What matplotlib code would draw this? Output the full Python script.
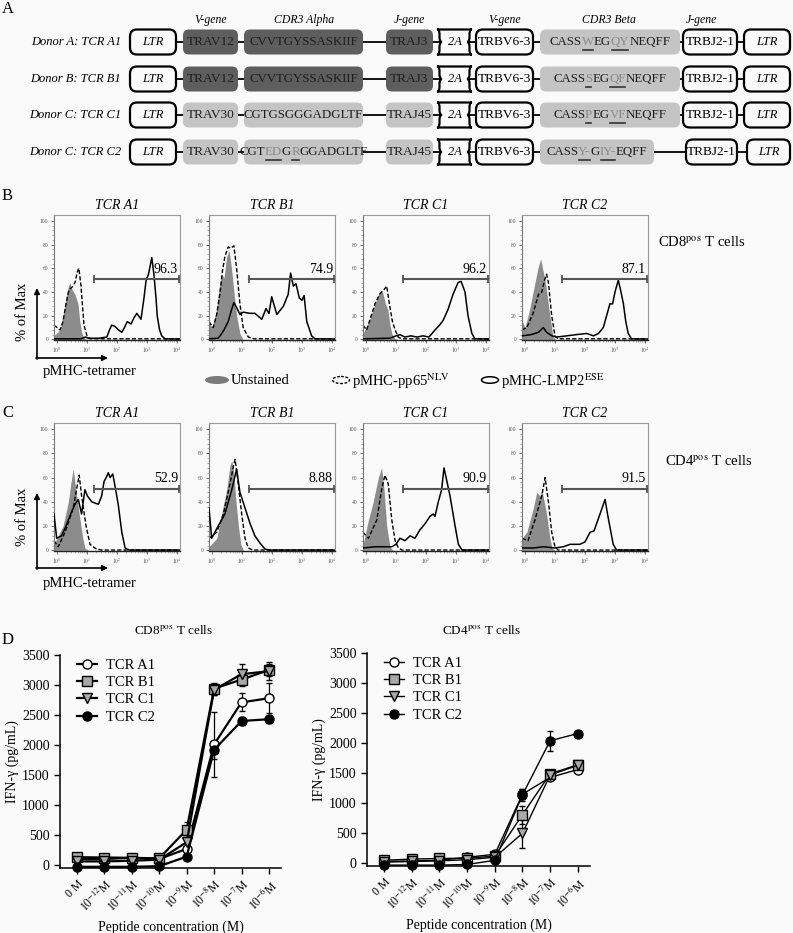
import matplotlib
matplotlib.use("Agg")
import matplotlib.pyplot as plt
import numpy as np
from matplotlib.patches import FancyBboxPatch, PathPatch, Ellipse
from matplotlib.path import Path

plt.rcParams['font.family'] = ['Liberation Serif', 'DejaVu Serif']
plt.rcParams['mathtext.fontset'] = 'stix'

W, H = 793, 933
BG = '#fafafa'
DARK = '#5e5e5e'
LIGHT = '#c4c4c4'
HL = '#8a8a8a'
UNS = '#8c8c8c'

# ---------------- panel A: TCR constructs ----------------
row_labels = ["Donor A: TCR A1", "Donor B: TCR B1", "Donor C: TCR C1", "Donor C: TCR C2"]
trav = ["TRAV12", "TRAV12", "TRAV30", "TRAV30"]
traj = ["TRAJ3", "TRAJ3", "TRAJ45", "TRAJ45"]
alpha_dark = [True, True, False, False]
cdr3_alpha = ["CVVTGYSSASKIIF", "CVVTGYSSASKIIF", "CGTGSGGGADGLTF", "CGT[ED]G[R]GGADGLTF"]
cdr3_beta = ["CASS[W]EG[QY]NEQFF", "CASS[S]EG[QF]NEQFF", "CASS[P]EG[VF]NEQFF", "CASS[Y-]G[IY-]EQFF"]
trbv = "TRBV6-3"
trbj = "TRBJ2-1"
headers = ["V-gene", "CDR3 Alpha", "J-gene", "V-gene", "CDR3 Beta", "J-gene"]

# ---------------- panel B/C: tetramer histograms (x = log10 fluorescence, y = % of max) ----------------
tcr_names = ["TCR A1", "TCR B1", "TCR C1", "TCR C2"]
b_gates = ["96.3", "74.9", "96.2", "87.1"]
c_gates = ["52.9", "8.88", "90.9", "91.5"]

b_a1_uns = [(-0.1, 3), (0.1, 8), (0.2, 20), (0.3, 35), (0.38, 45), (0.43, 48), (0.5, 42), (0.6, 38), (0.7, 30),
            (0.76, 15), (0.82, 6), (0.88, 2), (0.95, 0.5), (1.05, 0)]
b_a1_nlv = [(-0.1, 12), (0.1, 8), (0.2, 15), (0.3, 30), (0.4, 42), (0.5, 44), (0.6, 48), (0.68, 57), (0.73, 60),
            (0.8, 45), (0.85, 28), (0.9, 12), (1.0, 3), (1.1, 0.5), (4.1, 0.5)]
b_a1_ese = [(-0.1, 0.5), (0.8, 0.5), (0.95, 2), (1.05, 1), (1.4, 1), (1.66, 2), (1.75, 8), (1.82, 12), (1.93, 11),
            (2.05, 8), (2.16, 6), (2.25, 10), (2.34, 15), (2.47, 13), (2.56, 18), (2.66, 22), (2.8, 17), (2.9, 35),
            (2.97, 50), (3.05, 55), (3.16, 69), (3.23, 55), (3.3, 35), (3.34, 20), (3.42, 8), (3.49, 3), (3.6, 0.5),
            (4.1, 0.3)]

b_b1_uns = [(-0.1, 15), (0.0, 10), (0.15, 25), (0.25, 45), (0.32, 55), (0.4, 52), (0.49, 70), (0.57, 75), (0.65, 60),
            (0.73, 40), (0.82, 20), (0.93, 5), (1.03, 0)]
b_b1_nlv = [(-0.1, 15), (0.04, 10), (0.15, 20), (0.27, 40), (0.35, 58), (0.43, 70), (0.54, 78), (0.63, 77), (0.73, 79),
            (0.82, 60), (0.93, 30), (1.04, 10), (1.21, 2), (1.4, 0.5), (4.1, 0.5)]
b_b1_ese = [(-0.1, 0.5), (0.2, 1), (0.27, 3), (0.4, 8), (0.54, 15), (0.65, 25), (0.73, 31), (0.82, 27), (0.93, 21),
            (1.04, 23), (1.27, 22), (1.43, 22), (1.66, 17), (1.8, 26), (1.9, 22), (1.99, 36), (2.16, 21), (2.38, 28),
            (2.49, 35), (2.54, 38), (2.62, 56), (2.71, 45), (2.8, 47), (2.91, 35), (3.0, 33), (3.07, 37), (3.16, 15),
            (3.32, 3), (3.43, 0.5), (4.1, 0.3)]

b_c1_uns = [(-0.1, 5), (0.1, 15), (0.3, 30), (0.45, 40), (0.55, 40), (0.65, 30), (0.73, 25), (0.8, 12), (0.86, 5),
            (0.95, 1), (1.05, 0)]
b_c1_nlv = [(-0.1, 12), (0.02, 8), (0.15, 18), (0.3, 30), (0.45, 38), (0.6, 42), (0.69, 45), (0.78, 30), (0.88, 15),
            (0.97, 8), (1.07, 2), (1.2, 0.5), (4.1, 0.5)]
b_c1_ese = [(-0.1, 0.5), (0.8, 1), (1.0, 3), (1.13, 4), (1.3, 2), (1.5, 3), (1.7, 2), (1.9, 3), (2.1, 2), (2.3, 8),
            (2.45, 12), (2.57, 16), (2.73, 25), (2.9, 38), (3.07, 48), (3.17, 49), (3.3, 40), (3.4, 20), (3.53, 5),
            (3.63, 0.5), (4.1, 0.3)]

b_c2_uns = [(-0.1, 16), (0.0, 10), (0.15, 25), (0.27, 40), (0.43, 60), (0.52, 68), (0.6, 58), (0.67, 50), (0.75, 35),
            (0.83, 20), (0.93, 3), (1.0, 0)]
b_c2_nlv = [(-0.1, 8), (0.06, 10), (0.2, 18), (0.27, 22), (0.45, 38), (0.56, 40), (0.65, 50), (0.72, 55), (0.78, 48),
            (0.89, 20), (1.0, 3), (1.1, 0.5), (4.1, 0.5)]
b_c2_ese = [(-0.1, 3), (0.2, 4), (0.45, 6), (0.61, 10), (0.72, 6), (0.9, 3), (1.06, 2), (1.39, 3), (1.7, 4), (2.06, 5),
            (2.28, 3), (2.45, 5), (2.61, 10), (2.72, 20), (2.83, 30), (2.92, 30), (3.0, 40), (3.11, 50), (3.2, 40),
            (3.28, 30), (3.36, 15), (3.44, 5), (3.55, 0.5), (4.1, 0.3)]

c_a1_uns = [(-0.1, 5), (0.04, 12), (0.2, 20), (0.38, 40), (0.46, 55), (0.54, 67), (0.63, 50), (0.74, 30), (0.86, 10),
            (0.93, 2), (1.05, 0)]
c_a1_nlv = [(-0.1, 8), (0.04, 3), (0.27, 15), (0.54, 35), (0.65, 50), (0.74, 62), (0.82, 45), (0.97, 20), (1.1, 5),
            (1.32, 1), (1.5, 0.3), (4.1, 0.3)]
c_a1_ese = [(-0.1, 30), (-0.01, 10), (0.15, 12), (0.3, 20), (0.49, 32), (0.6, 38), (0.71, 42), (0.82, 30), (0.93, 50),
            (1.01, 45), (1.16, 40), (1.38, 38), (1.49, 45), (1.57, 57), (1.64, 60), (1.71, 64), (1.77, 60), (1.86, 63),
            (1.97, 48), (2.04, 38), (2.16, 15), (2.27, 2), (2.4, 0.3), (4.1, 0.3)]

c_b1_uns = [(-0.1, 3), (0.16, 10), (0.32, 30), (0.49, 50), (0.6, 70), (0.66, 74), (0.72, 65), (0.8, 40), (0.88, 20),
            (0.96, 5), (1.05, 0)]
c_b1_nlv = [(-0.1, 10), (0.16, 15), (0.38, 30), (0.6, 55), (0.72, 70), (0.77, 75), (0.85, 60), (0.99, 30), (1.1, 10),
            (1.21, 2), (1.35, 0.3), (4.1, 0.3)]
c_b1_ese = [(-0.1, 35), (-0.01, 10), (0.16, 18), (0.43, 30), (0.66, 50), (0.82, 67), (0.93, 48), (1.1, 35), (1.27, 22),
            (1.43, 12), (1.6, 6), (1.77, 1), (1.95, 0.3), (4.1, 0.3)]

c_c1_uns = [(-0.1, 5), (0.08, 25), (0.24, 40), (0.41, 60), (0.52, 68), (0.6, 50), (0.69, 20), (0.8, 3), (0.9, 0)]
c_c1_nlv = [(-0.1, 15), (0.08, 10), (0.36, 25), (0.52, 50), (0.63, 62), (0.74, 55), (0.86, 25), (0.97, 8), (1.08, 2),
            (1.2, 0.3), (4.1, 0.3)]
c_c1_ese = [(-0.1, 2), (0.3, 3), (0.86, 3), (1.0, 5), (1.13, 10), (1.3, 8), (1.47, 12), (1.63, 10), (1.8, 17),
            (1.97, 22), (2.13, 28), (2.24, 30), (2.3, 28), (2.41, 40), (2.52, 50), (2.6, 68), (2.67, 60), (2.8, 45),
            (2.97, 20), (3.08, 5), (3.2, 0.3), (4.1, 0.3)]

c_c2_uns = [(-0.1, 10), (0.06, 15), (0.28, 35), (0.39, 48), (0.5, 45), (0.56, 50), (0.72, 30), (0.83, 10), (0.9, 2),
            (1.0, 0)]
c_c2_nlv = [(-0.1, 10), (0.1, 8), (0.33, 25), (0.56, 45), (0.67, 60), (0.78, 40), (0.89, 15), (1.0, 3), (1.1, 0.3),
            (4.1, 0.3)]
c_c2_ese = [(-0.1, 2), (0.3, 2), (0.6, 3), (1.0, 2), (1.28, 3), (1.5, 5), (1.83, 5), (2.0, 7), (2.17, 15), (2.3, 16),
            (2.5, 30), (2.67, 42), (2.75, 30), (2.94, 5), (3.05, 0.3), (4.1, 0.3)]

gate_start, gate_end, gate_y = 1.23, 4.08, 51

# ---------------- panel D: IFN-gamma dose response ----------------
conc_labels = ["0 M", r"$10^{-12}$M", r"$10^{-11}$M", r"$10^{-10}$M", r"$10^{-9}$M",
               r"$10^{-8}$M", r"$10^{-7}$M", r"$10^{-6}$M"]
series = ["TCR A1", "TCR B1", "TCR C1", "TCR C2"]

cd8_a1 = [100, 100, 120, 100, 270, 2010, 2710, 2780]
cd8_a1_err = [20, 20, 20, 20, 40, 540, 150, 250]
cd8_b1 = [130, 125, 120, 110, 590, 2940, 3090, 3250]
cd8_b1_err = [20, 20, 20, 20, 125, 100, 100, 100]
cd8_c1 = [60, 60, 70, 90, 380, 2920, 3180, 3230]
cd8_c1_err = [15, 15, 15, 15, 60, 80, 170, 150]
cd8_c2 = [-30, -30, -30, -20, 140, 1920, 2400, 2430]
cd8_c2_err = [10, 10, 10, 10, 30, 150, 60, 60]

cd4_a1 = [30, 40, 50, 100, 150, 1150, 1430, 1560]
cd4_a1_err = [10, 10, 10, 15, 20, 80, 50, 50]
cd4_b1 = [50, 70, 80, 85, 120, 810, 1490, 1640]
cd4_b1_err = [10, 10, 10, 10, 20, 150, 50, 50]
cd4_c1 = [20, 30, 40, 60, 100, 500, 1470, 1630]
cd4_c1_err = [10, 10, 10, 10, 20, 250, 50, 50]
cd4_c2 = [-30, -30, -30, -20, 50, 1140, 2040, 2160]
cd4_c2_err = [10, 10, 10, 10, 15, 100, 170, 30]

fig = plt.figure(figsize=(W / 100, H / 100), dpi=100, facecolor=BG)
ov = fig.add_axes([0, 0, 1, 1])
ov.set_xlim(0, W)
ov.set_ylim(H, 0)
ov.axis('off')


def px_axes(x0, y0, x1, y1):
    ax = fig.add_axes([x0 / W, 1 - y1 / H, (x1 - x0) / W, (y1 - y0) / H])
    ax.set_facecolor('none')
    return ax


# panel letters
for letter, ly in zip("ABCD", [9, 196, 413, 640]):
    ov.text(2, ly, letter, fontsize=12, va='center', ha='left')

# ---- panel A drawing
row_y = [42, 79, 115, 152]
BOX_H = 25


def box(x0, x1, y, face, edge='none', r=6, lw=1.6):
    ov.add_patch(FancyBboxPatch((x0, y - BOX_H / 2), x1 - x0, BOX_H,
                                boxstyle="round,pad=0,rounding_size=%g" % r,
                                fc=face, ec=edge, lw=lw if edge != 'none' else 0, zorder=3))


def wavy(x0, x1, y):
    t, b = y - BOX_H / 2, y + BOX_H / 2
    d = 5
    verts = [(x0, t), (x1, t),
             (x1 - d, t), (x1, y), (x1 - d, y),
             (x1, y), (x1 - d, b), (x1, b),
             (x0, b),
             (x0 + d, b), (x0, y), (x0 + d, y),
             (x0, y), (x0 + d, t), (x0, t),
             (x0, t)]
    codes = [Path.MOVETO, Path.LINETO] + [Path.CURVE4] * 6 + [Path.LINETO] + [Path.CURVE4] * 6 + [Path.CLOSEPOLY]
    ov.add_patch(PathPatch(Path(verts, codes), fc=BG, ec='k', lw=1.6, zorder=3))


def parse(seq):
    pieces, cur = [], ''
    for ch in seq:
        if ch == '[':
            if cur:
                pieces.append((cur, False))
            cur = ''
        elif ch == ']':
            pieces.append((cur, True))
            cur = ''
        else:
            cur += ch
    if cur:
        pieces.append((cur, False))
    return pieces


renderer = fig.canvas.get_renderer()


def seq_text(xc, y, seq, fs=9.3):
    pieces = parse(seq)
    ts = [ov.text(0, y, s, fontsize=fs, color=HL if h else '#1e1e1e', va='center', ha='left', zorder=5)
          for s, h in pieces]
    ws = [t.get_window_extent(renderer).width for t in ts]
    x = xc - sum(ws) / 2
    for t, w, (s, h) in zip(ts, ws, pieces):
        t.set_x(x)
        if h:
            ov.plot([x + 1, x + w - 1], [y + 7.5, y + 7.5], color='#333333', lw=1.2, zorder=5)
        x += w


for hx, htxt in zip([211, 304, 410, 505, 609, 702], headers):
    ov.text(hx, 20, htxt, fontsize=8.5, style='italic', ha='center', va='center')

cdr3b_end = [680, 680, 680, 654]
trbj_x0 = [683, 683, 683, 686]
ltr_r_x0 = [744, 744, 744, 747]

for i, y in enumerate(row_y):
    ov.text(121, y, row_labels[i], fontsize=9, style='italic', ha='right', va='center')
    ov.plot([176, 746], [y, y], color='k', lw=1.3, zorder=1)
    box(130, 176, y, BG, 'k', r=7)
    ov.text(153, y, "LTR", fontsize=9, style='italic', ha='center', va='center', zorder=5)
    acol = DARK if alpha_dark[i] else LIGHT
    box(183, 238, y, acol)
    ov.text(210.5, y, trav[i], fontsize=9.6, ha='center', va='center', color='#1e1e1e', zorder=5)
    box(244, 363, y, acol)
    seq_text(303.5, y, cdr3_alpha[i])
    box(386, 433, y, acol)
    ov.text(409.5, y, traj[i], fontsize=9.6, ha='center', va='center', color='#1e1e1e', zorder=5)
    wavy(437, 472, y)
    ov.text(454.5, y, "2A", fontsize=9, style='italic', ha='center', va='center', zorder=5)
    box(476, 533, y, BG, 'k', r=7)
    ov.text(504.5, y, trbv, fontsize=9.6, ha='center', va='center', zorder=5)
    box(540, cdr3b_end[i], y, LIGHT)
    seq_text((540 + cdr3b_end[i]) / 2, y, cdr3_beta[i])
    box(trbj_x0[i], 737, y, BG, 'k', r=7)
    ov.text((trbj_x0[i] + 737) / 2, y, trbj, fontsize=9.6, ha='center', va='center', zorder=5)
    box(ltr_r_x0[i], 790, y, BG, 'k', r=7)
    ov.text((ltr_r_x0[i] + 790) / 2, y, "LTR", fontsize=9, style='italic', ha='center', va='center', zorder=5)


# ---- panels B and C
def hist_panel(ax, uns, nlv, ese, gate, title):
    ux, uy = zip(*uns)
    nx, ny = zip(*nlv)
    ex, ey = zip(*ese)
    ax.fill_between(ux, uy, 0, color=UNS, lw=0, zorder=1)
    ax.plot(nx, ny, color='k', ls=(0, (3, 1.5)), lw=1.0, zorder=2)
    ax.plot(ex, ey, color='k', lw=1.1, zorder=3)
    ax.plot([gate_start, gate_end], [gate_y, gate_y], color='#555555', lw=1.5,
            marker='|', ms=6, mew=1.3, zorder=4)
    ax.text(gate_end - 0.05, gate_y + 2.5, gate, fontsize=10, ha='right', va='bottom')
    ax.set_xlim(-0.1, 4.1)
    ax.set_ylim(-0.5, 105)
    ax.set_yticks([0, 20, 40, 60, 80, 100])
    ax.set_yticks(np.arange(0, 101, 4), minor=True)
    ax.set_xticks([0, 1, 2, 3, 4])
    ax.set_xticklabels([r'$10^{0}$', r'$10^{1}$', r'$10^{2}$', r'$10^{3}$', r'$10^{4}$'])
    ax.set_xticks([d + np.log10(k) for d in range(4) for k in range(2, 10)], minor=True)
    ax.tick_params(labelsize=4, length=2.5, width=0.6, pad=1.5, colors='#555555')
    ax.tick_params(which='minor', length=1.3, width=0.4, colors='#777777')
    for s in ['top', 'right']:
        ax.spines[s].set_color('#9a9a9a')
        ax.spines[s].set_linewidth(0.8)
    ax.spines['left'].set_color('#777777')
    ax.spines['left'].set_linewidth(0.8)
    ax.spines['bottom'].set_color('#222222')
    ax.spines['bottom'].set_linewidth(1.0)
    ax.set_title(title, fontsize=10, style='italic', pad=4)


hist_x = [54, 209, 363, 522]
b_data = [(b_a1_uns, b_a1_nlv, b_a1_ese), (b_b1_uns, b_b1_nlv, b_b1_ese),
          (b_c1_uns, b_c1_nlv, b_c1_ese), (b_c2_uns, b_c2_nlv, b_c2_ese)]
c_data = [(c_a1_uns, c_a1_nlv, c_a1_ese), (c_b1_uns, c_b1_nlv, c_b1_ese),
          (c_c1_uns, c_c1_nlv, c_c1_ese), (c_c2_uns, c_c2_nlv, c_c2_ese)]

for i in range(4):
    ax = px_axes(hist_x[i], 215, hist_x[i] + 126, 340)
    hist_panel(ax, *b_data[i], b_gates[i], tcr_names[i])
    ax = px_axes(hist_x[i], 423, hist_x[i] + 126, 551)
    hist_panel(ax, *c_data[i], c_gates[i], tcr_names[i])

ov.text(658, 243, r"CD8$^{\mathrm{pos}}$ T cells", fontsize=10.5, va='center')
ov.text(665, 462, r"CD4$^{\mathrm{pos}}$ T cells", fontsize=10.5, va='center')

for tip_y, base_y, lab_y, txt_y in [(288, 359, 312, 372), (493, 569, 517, 583)]:
    ov.annotate('', xy=(37, tip_y), xytext=(37, base_y),
                arrowprops=dict(arrowstyle='-|>', color='k', lw=1.2, mutation_scale=8, shrinkA=0, shrinkB=0))
    ov.annotate('', xy=(108, base_y - 1), xytext=(36, base_y - 1),
                arrowprops=dict(arrowstyle='-|>', color='k', lw=1.2, mutation_scale=8, shrinkA=0, shrinkB=0))
    ov.text(22, lab_y, "% of Max", fontsize=10.5, rotation=90, ha='center', va='center')
    ov.text(43, txt_y, "pMHC-tetramer", fontsize=10.5, ha='left', va='center')

# legend for histograms
ov.add_patch(Ellipse((217, 380), 24, 8, fc='#7a7a7a', ec='none'))
ov.text(231, 380, "Unstained", fontsize=10.5, va='center')
ov.add_patch(Ellipse((341, 380), 17, 7, fc='none', ec='k', lw=1.0, ls=(0, (2, 1.2))))
ov.text(352, 381, r"pMHC-pp65$^{\mathrm{NLV}}$", fontsize=10.5, va='center')
ov.add_patch(Ellipse((490, 380), 17, 6.5, fc='none', ec='k', lw=1.1))
ov.text(501, 381, r"pMHC-LMP2$^{\mathrm{ESE}}$", fontsize=10.5, va='center')

# ---- panel D
styles = [dict(marker='o', mfc='white'), dict(marker='s', mfc='#a8a8a8'),
          dict(marker='v', mfc='#a8a8a8'), dict(marker='o', mfc='black')]


def dose_panel(ax, vals, errs, lw, title, title_x):
    xs = np.arange(len(conc_labels))
    handles = []
    for v, e, st, name in zip(vals, errs, styles, series):
        c = ax.errorbar(xs, v, yerr=e, color='k', lw=lw, ms=6.5, mec='k', mew=1.0,
                        capsize=2, elinewidth=0.9, capthick=0.9, clip_on=False, label=name, **st)
        handles.append(c.lines[0])
    ax.set_xlim(-0.62, 7.44)
    ax.set_ylim(-45, 3500)
    ax.set_yticks(np.arange(0, 3501, 500))
    ax.set_xticks(xs)
    ax.set_xticklabels(conc_labels, rotation=45, ha='right', rotation_mode='anchor', fontsize=8.5)
    ax.tick_params(axis='y', labelsize=10, length=4, width=1)
    ax.tick_params(axis='x', length=4, width=1, pad=3)
    for s in ['top', 'right']:
        ax.spines[s].set_visible(False)
    ax.spines['left'].set_linewidth(1.1)
    ax.spines['bottom'].set_linewidth(1.1)
    ax.set_ylabel("IFN-γ (pg/mL)", fontsize=10, labelpad=2)
    ax.set_xlabel("Peptide concentration (M)", fontsize=10, labelpad=4)
    ax.legend(handles=handles, labels=series, loc='upper left', bbox_to_anchor=(0.05, 1.01),
              frameon=False, fontsize=10.5, handlelength=1.4, handletextpad=0.6, labelspacing=0.28,
              borderaxespad=0)
    ov.text(title_x, 630, title, fontsize=9.5, ha='center', va='center')


axL = px_axes(60, 655, 281, 867.7)
dose_panel(axL, [cd8_a1, cd8_b1, cd8_c1, cd8_c2], [cd8_a1_err, cd8_b1_err, cd8_c1_err, cd8_c2_err],
           1.6, r"CD8$^{\mathrm{pos}}$ T cells", 174)
axR = px_axes(367, 653, 590, 866)
dose_panel(axR, [cd4_a1, cd4_b1, cd4_c1, cd4_c2], [cd4_a1_err, cd4_b1_err, cd4_c1_err, cd4_c2_err],
           1.0, r"CD4$^{\mathrm{pos}}$ T cells", 482)

fig.savefig("out.png", dpi=100, facecolor=BG)
